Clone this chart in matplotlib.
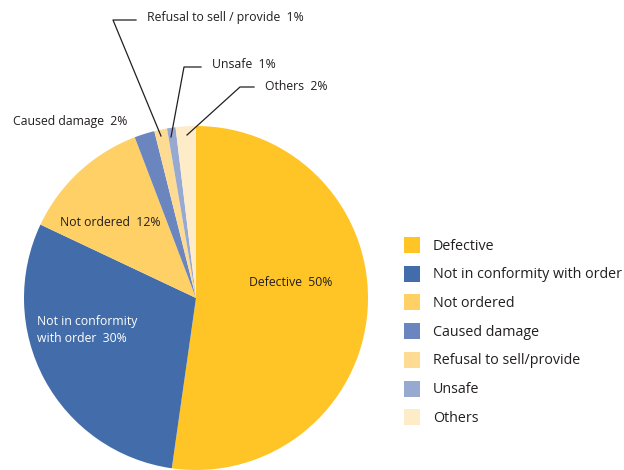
import matplotlib
matplotlib.use("Agg")
import matplotlib.pyplot as plt
from matplotlib.patches import Rectangle

plt.rcParams['font.family'] = ['Open Sans', 'DejaVu Sans']

categories = ["Defective", "Not in conformity with order", "Not ordered", "Caused damage",
              "Refusal to sell/provide", "Unsafe", "Others"]
values = [52.3, 29.8, 12.2, 1.9, 1.2, 0.8, 1.9]
pct_labels = ["50%", "30%", "12%", "2%", "1%", "1%", "2%"]
colors = ["#FFC425", "#426DAA", "#FED066", "#6B86BE", "#FEDB93", "#98A9D1", "#FEEBC8"]

W, H = 624, 470
fig = plt.figure(figsize=(6.24, 4.70), dpi=100)
ax = fig.add_axes([0, 0, 1, 1])

def Y(py):
    return H - py

cx, cy, r = 196, 298, 172
ax.pie(values, colors=colors, startangle=90, counterclock=False,
       center=(cx, Y(cy)), radius=r, frame=True,
       wedgeprops=dict(linewidth=0))
ax.set_xlim(0, W)
ax.set_ylim(0, H)
ax.set_aspect('equal')
ax.axis('off')

fs = 8.8
dark = "#231F20"
ax.text(249, Y(283), f"{categories[0]}  {pct_labels[0]}", fontsize=fs, color=dark, va='center', ha='left')
ax.text(37, Y(321), "Not in conformity", fontsize=fs, color="white", va='center', ha='left')
ax.text(37, Y(338), f"with order  {pct_labels[1]}", fontsize=fs, color="white", va='center', ha='left')
ax.text(60, Y(223), f"{categories[2]}  {pct_labels[2]}", fontsize=fs, color=dark, va='center', ha='left')
ax.text(13, Y(122), f"{categories[3]}  {pct_labels[3]}", fontsize=fs, color=dark, va='center', ha='left')

# leader-line labels
ax.plot([136, 113, 161], [Y(20), Y(20), Y(136)], color=dark, lw=0.9)
ax.text(147, Y(18), f"Refusal to sell / provide  {pct_labels[4]}", fontsize=fs, color=dark, va='center', ha='left')
ax.plot([201, 184, 171], [Y(67), Y(67), Y(137)], color=dark, lw=0.9)
ax.text(212, Y(64), f"{categories[5]}  {pct_labels[5]}", fontsize=fs, color=dark, va='center', ha='left')
ax.plot([254, 240, 187], [Y(87), Y(87), Y(135)], color=dark, lw=0.9)
ax.text(265, Y(86), f"{categories[6]}  {pct_labels[6]}", fontsize=fs, color=dark, va='center', ha='left')

# legend
y0, dy = 245, 28.7
for i, (cat, col) in enumerate(zip(categories, colors)):
    yy = y0 + i * dy
    ax.add_patch(Rectangle((404, Y(yy + 8)), 16, 16, facecolor=col, edgecolor='none'))
    ax.text(433, Y(yy + 1), cat, fontsize=10.3, color=dark, va='center', ha='left')

fig.savefig("out.png", dpi=100)
